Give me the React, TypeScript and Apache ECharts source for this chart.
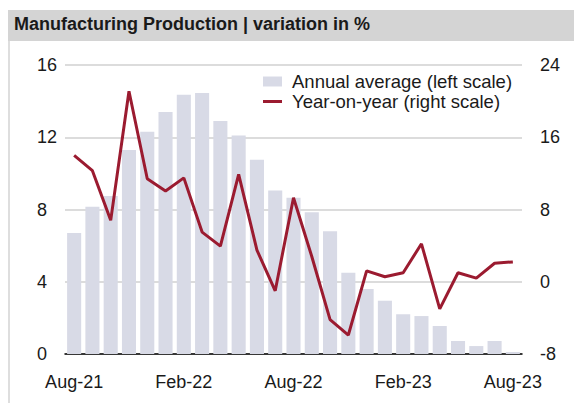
import React, { useEffect, useRef } from "react";
import * as echarts from "echarts";

const categories = [
  "Aug-21", "Sep-21", "Oct-21", "Nov-21", "Dec-21", "Jan-22", "Feb-22",
  "Mar-22", "Apr-22", "May-22", "Jun-22", "Jul-22", "Aug-22", "Sep-22",
  "Oct-22", "Nov-22", "Dec-22", "Jan-23", "Feb-23", "Mar-23", "Apr-23",
  "May-23", "Jun-23", "Jul-23", "Aug-23",
];

const annualAverage = [
  6.7, 8.15, 8.75, 11.3, 12.3, 13.4, 14.35, 14.45, 12.9, 12.1, 10.75, 9.05,
  8.65, 7.85, 6.8, 4.5, 3.6, 2.95, 2.2, 2.1, 1.55, 0.72, 0.44, 0.72, 0.11,
];

const yearOnYear = [
  14.0, 12.3, 6.8, 21.1, 11.4, 10.05, 11.5, 5.5, 3.95, 11.9, 3.5, -1.0,
  9.3, 2.8, -4.2, -5.9, 1.2, 0.55, 1.0, 4.2, -3.0, 1.0, 0.4, 2.05, 2.2,
];

const leftTicks = { min: 0, max: 16, interval: 4 };
const rightTicks = { min: -8, max: 24, interval: 8 };

const titleText = "Manufacturing Production | variation in %";
const barName = "Annual average (left scale)";
const lineName = "Year-on-year (right scale)";

const FONT = "'Liberation Sans', Arial, sans-serif";
const TEXT = "#1a1a1a";
const RED = "#9b1b30";

export default function App() {
  const ref = useRef<HTMLDivElement>(null);
  useEffect(() => {
    if (!ref.current) return;
    const chart = echarts.init(ref.current, undefined, { renderer: "svg" });
    chart.setOption({
      animation: false,
      backgroundColor: "#ffffff",
      textStyle: { fontFamily: FONT, color: TEXT },
      grid: { left: 65, right: 52, top: 65, bottom: 49, containLabel: false },
      graphic: [
        { type: "rect", left: 8, top: 10, shape: { width: 566, height: 31 }, style: { fill: "#d4d4d4" }, z: 0 },
        { type: "rect", left: 8, top: 41, shape: { width: 2, height: 362 }, style: { fill: "#dedede" }, z: 0 },
        {
          type: "text", left: 14, top: 15, z: 10,
          style: { text: titleText, font: `bold 18px ${FONT}`, fill: TEXT },
        },
      ],
      legend: {
        orient: "vertical",
        left: 263,
        top: 72,
        padding: 0,
        itemWidth: 19,
        itemHeight: 10,
        itemGap: 1,
        textStyle: { fontSize: 18.5, color: TEXT, fontFamily: FONT, padding: [0, 0, 0, 5] },
        data: [
          { name: barName, icon: "rect" },
          { name: lineName, icon: "path://M0,0h19v3h-19z", itemStyle: { color: RED } },
        ],
      },
      xAxis: {
        type: "category",
        data: categories,
        axisLine: { lineStyle: { color: "#000000", width: 1.5 } },
        axisTick: { show: false },
        axisLabel: { interval: 5, fontSize: 18, color: TEXT, margin: 19, fontFamily: FONT },
      },
      yAxis: [
        {
          type: "value",
          ...leftTicks,
          axisLine: { show: false },
          axisTick: { show: false },
          axisLabel: { fontSize: 18, color: TEXT, align: "left", margin: 28, fontFamily: FONT },
          splitLine: { lineStyle: { color: "#d0d0d0", width: 1.5 } },
        },
        {
          type: "value",
          ...rightTicks,
          position: "right",
          axisLine: { show: false },
          axisTick: { show: false },
          axisLabel: { fontSize: 18, color: TEXT, align: "left", margin: 18, fontFamily: FONT },
          splitLine: { show: false },
        },
      ],
      series: [
        {
          name: barName,
          type: "bar",
          data: annualAverage,
          yAxisIndex: 0,
          barCategoryGap: "23%",
          itemStyle: { color: "#d8dae6" },
        },
        {
          name: lineName,
          type: "line",
          data: yearOnYear,
          yAxisIndex: 1,
          symbol: "none",
          lineStyle: { color: RED, width: 3 },
          itemStyle: { color: RED },
        },
      ],
    });
    return () => chart.dispose();
  }, []);
  return (
    <div style={{ position: "fixed", left: 0, top: 0, width: 574, height: 403, background: "#fff" }}>
      <div ref={ref} style={{ width: 574, height: 403 }} />
    </div>
  );
}
